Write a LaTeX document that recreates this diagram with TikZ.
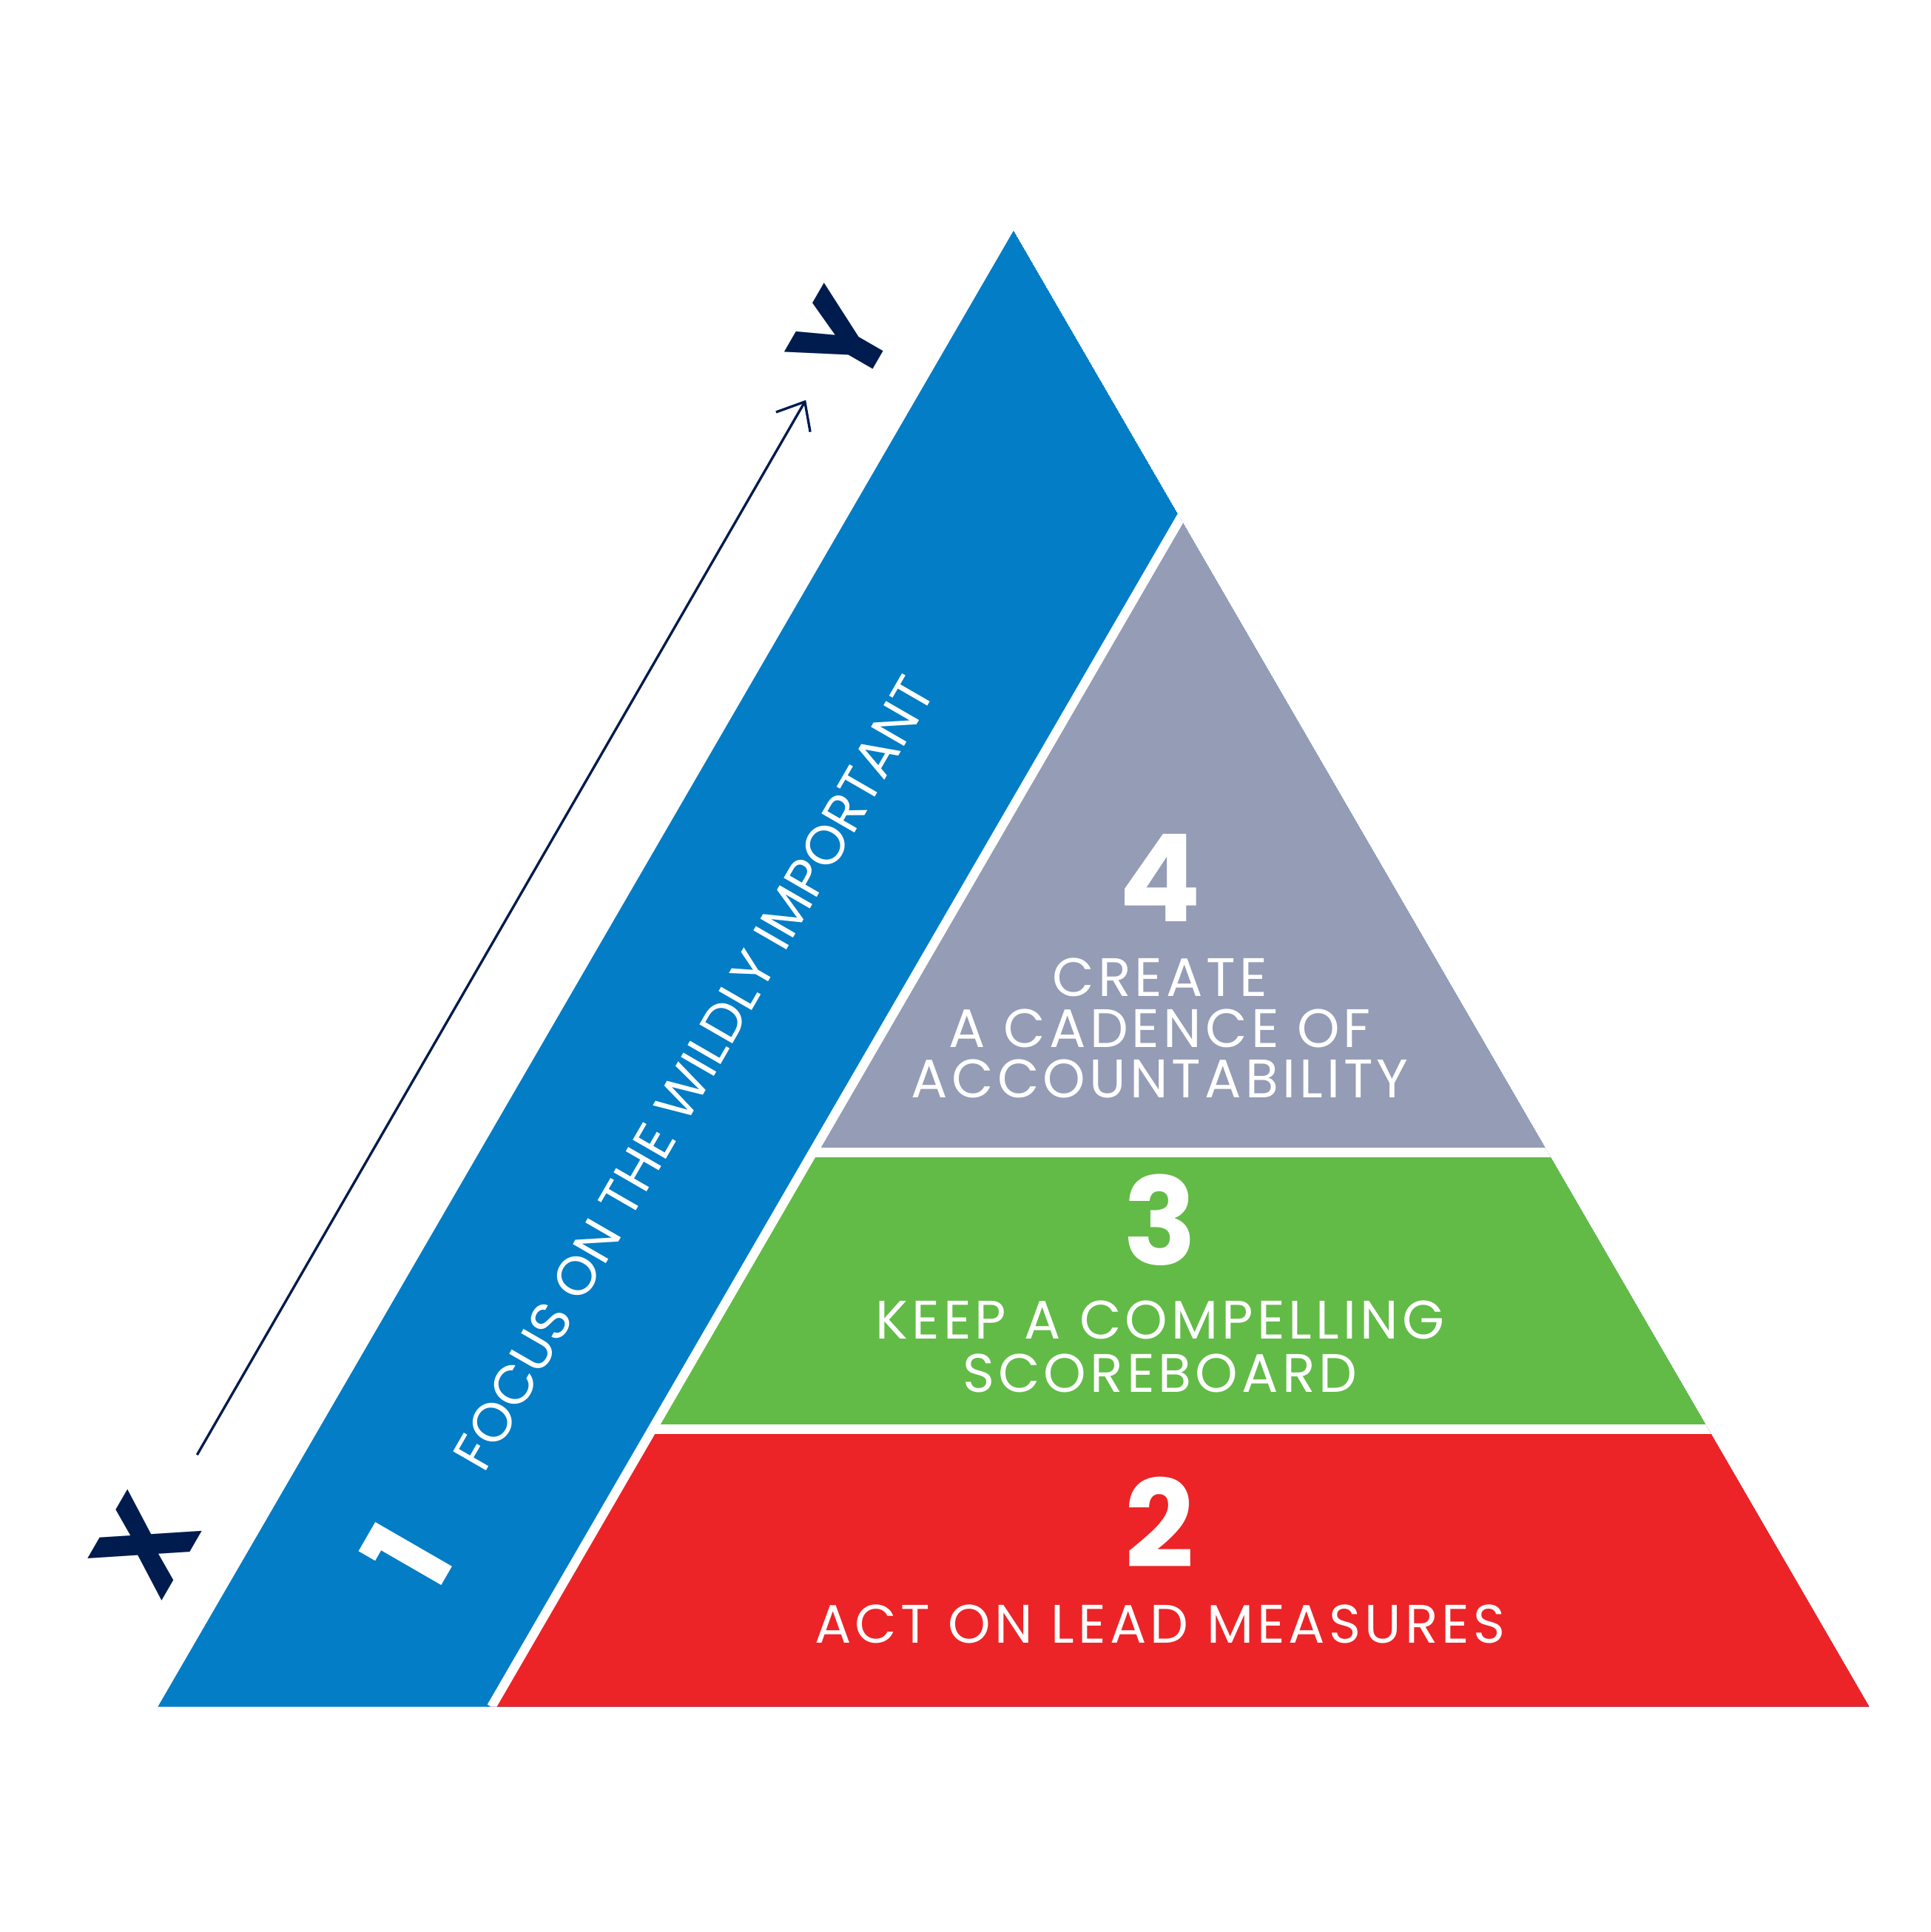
\documentclass[tikz,border=0pt]{standalone}
\usepackage{fontspec}
\setmainfont{Poppins}
\newfontfamily\steplight[LetterSpace=7]{Poppins}
\usetikzlibrary{arrows.meta}

\definecolor{focusblue}{RGB}{2,125,198}
\definecolor{cadencegray}{RGB}{148,156,182}
\definecolor{scoregreen}{RGB}{98,187,70}
\definecolor{leadred}{RGB}{236,36,39}
\definecolor{axisnavy}{RGB}{0,27,77}

\tikzset{
  bignum/.style={text=white, inner sep=0pt, font=\fontsize{28}{28}\selectfont\bfseries},
  steptext/.style={text=white, inner sep=0pt, anchor=base, font=\fontsize{12.5}{12.5}\selectfont\steplight},
  bandtext/.style={text=white, inner sep=0pt, rotate=60, font=\fontsize{12.6}{12.6}\selectfont},
  axislabel/.style={text=axisnavy, inner sep=0pt, rotate=60, font=\fontsize{28}{28}\selectfont\bfseries},
  gap/.style={white, line width=0.075cm},
}

\begin{document}
\begin{tikzpicture}[x=0.01cm, y=0.01cm]
  \useasboundingbox (0,0) rectangle (1566,-1566.6);
  \coordinate (apex) at (822,-187);
  \coordinate (bl) at (128,-1384);
  \coordinate (br) at (1516,-1384);
  \coordinate (gapbot) at (398.5,-1384);
  \coordinate (gaptop) at (1092.5,-187);
  % pyramid
  \begin{scope}
    \clip (bl) -- (apex) -- (br) -- cycle;
    \fill[focusblue] (bl) -- (apex) -- (br) -- cycle;
    \begin{scope}
      \clip (gapbot) -- (gaptop) -- (1600,-187) -- (1600,-1384) -- cycle;
      \fill[cadencegray] (0,-187) rectangle (1600,-934.5);
      \fill[scoregreen] (0,-934.5) rectangle (1600,-1159);
      \fill[leadred] (0,-1159) rectangle (1600,-1384);
      \draw[gap] (0,-934.5) -- (1600,-934.5);
      \draw[gap] (0,-1159) -- (1600,-1159);
    \end{scope}
    \draw[gap] (gapbot) -- (gaptop);
  \end{scope}
  % levels
  \node[bignum] (four) at (940.7,-712) {4};
  \node[steptext] (create) at (940.7,-808) {CREATE};
  \node[steptext] (cadence) at (940.7,-849.4) {A CADENCE OF};
  \node[steptext] (account) at (940.7,-889.8) {ACCOUNTABILITY};
  \node[bignum] (three) at (940.7,-989) {3};
  \node[steptext] (keep) at (940.7,-1085.8) {KEEP A COMPELLING};
  \node[steptext] (score) at (940.7,-1128.7) {SCOREBOARD};
  \node[bignum] (two) at (940.7,-1234.5) {2};
  \node[steptext] (act) at (940.7,-1332.2) {ACT ON LEAD MEASURES};
  % discipline 1
  \node[bignum, rotate=60] (one) at (330,-1262) {1};
  \node[bandtext] (focus) at (562.5,-870.2) {FOCUS ON THE WILDLY IMPORTANT};
  % x to y
  \node[axislabel] (xlab) at (117.5,-1253) {X};
  \node[axislabel] (ylab) at (682,-275) {Y};
  \draw[axisnavy, line width=0.02cm, -{Straight Barb[length=1.9mm, width=3.2mm]},
    shorten <=8.46mm, shorten >=5.7mm] (xlab.center) -- (ylab.center);
\end{tikzpicture}
\end{document}
